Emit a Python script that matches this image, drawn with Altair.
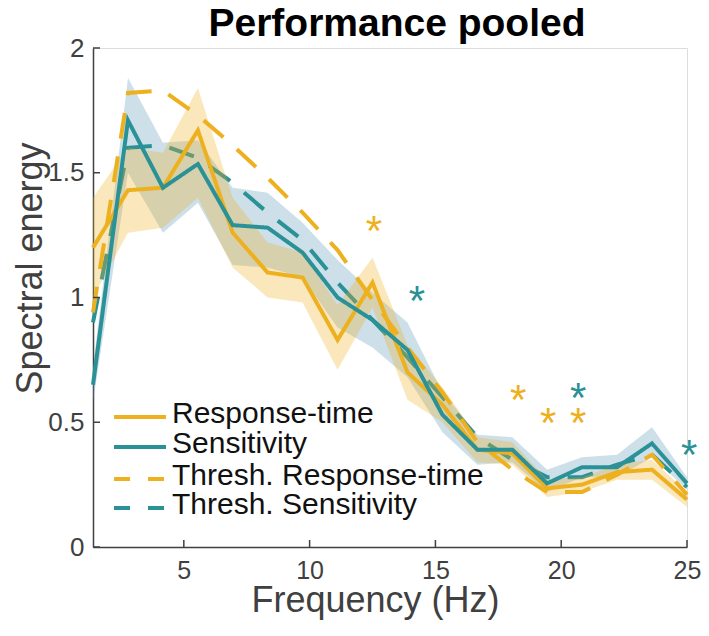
import altair as alt
import pandas as pd

# ---------------- data ----------------
freq = [1.39, 2.78, 4.17, 5.56, 6.94, 8.33, 9.72, 11.11, 12.5, 13.89,
        15.28, 16.67, 18.06, 19.44, 20.83, 22.22, 23.61, 25.0]

rt = [1.20, 1.43, 1.44, 1.67, 1.26, 1.10, 1.08, 0.83, 1.06, 0.70,
      0.57, 0.39, 0.375, 0.235, 0.25, 0.30, 0.31, 0.19]
rt_hi = [1.40, 1.60, 1.58, 1.84, 1.40, 1.22, 1.18, 0.97, 1.16, 0.81,
         0.64, 0.44, 0.42, 0.27, 0.28, 0.33, 0.35, 0.22]
rt_lo = [1.00, 1.26, 1.28, 1.40, 1.12, 1.00, 0.98, 0.71, 0.96, 0.59,
         0.50, 0.34, 0.33, 0.20, 0.22, 0.27, 0.27, 0.16]

sens = [0.65, 1.71, 1.44, 1.535, 1.29, 1.28, 1.18, 1.00, 0.91, 0.79,
        0.53, 0.39, 0.39, 0.255, 0.32, 0.32, 0.415, 0.255]
sens_hi = [0.72, 1.88, 1.62, 1.63, 1.44, 1.42, 1.30, 1.15, 1.02, 0.90,
           0.62, 0.45, 0.44, 0.31, 0.36, 0.37, 0.48, 0.28]
sens_lo = [0.58, 1.50, 1.26, 1.38, 1.13, 1.12, 1.08, 0.88, 0.80, 0.68,
           0.46, 0.33, 0.34, 0.22, 0.28, 0.28, 0.36, 0.23]

thr_rt = [0.94, 1.82, 1.83, 1.73, 1.61, 1.48, 1.34, 1.19, 0.99, 0.80,
          0.62, 0.42, 0.31, 0.22, 0.22, 0.29, 0.37, 0.21]
thr_sens = [0.90, 1.60, 1.61, 1.56, 1.46, 1.34, 1.23, 1.06, 0.91, 0.76,
            0.60, 0.44, 0.35, 0.28, 0.28, 0.33, 0.37, 0.24]

rt_star_f = [12.56, 18.29, 19.48, 20.67]
rt_star_v = [1.30, 0.62, 0.53, 0.53]
sens_star_f = [14.27, 20.67, 25.09]
sens_star_v = [1.02, 0.63, 0.40]

series_names = ["Response-time", "Sensitivity",
                "Thresh. Response-time", "Thresh. Sensitivity"]

x_ticks = [5, 10, 15, 20, 25]
y_ticks = [0, 0.5, 1, 1.5, 2]

# ---------------- styling ----------------
YEL = "#EDB120"
TEAL = "#2A9197"
BAND_TEAL = "#5A96B4"
AXC = "#404040"
FONT = "Liberation Sans"
series_colors = [YEL, TEAL, YEL, TEAL]
series_dash = [[1, 0], [1, 0], [26, 18], [26, 18]]
legend_dash = [[1, 0], [1, 0], [16, 18], [16, 18]]
legend_rows_px = [369, 399, 431, 460]   # legend row centres inside the plot

# ---------------- tables ----------------
lines = pd.DataFrame(
    [{"freq": f, "value": v, "series": s}
     for s, vals in zip(series_names, [rt, sens, thr_rt, thr_sens])
     for f, v in zip(freq, vals)]
)
bands = pd.DataFrame({"freq": freq, "rt_lo": rt_lo, "rt_hi": rt_hi,
                      "sens_lo": sens_lo, "sens_hi": sens_hi})
rt_stars = pd.DataFrame({"freq": rt_star_f, "value": rt_star_v})
sens_stars = pd.DataFrame({"freq": sens_star_f, "value": sens_star_v})
xt = pd.DataFrame({"freq": x_ticks})
yt = pd.DataFrame({"value": y_ticks})

x_scale = alt.Scale(domain=[1.39, 25], nice=False, zero=False)
y_scale = alt.Scale(domain=[0, 2], nice=False)

x_axis = alt.Axis(values=x_ticks, title="Frequency (Hz)", tickSize=0,
                  labelFontSize=25, labelColor=AXC, labelFont=FONT,
                  labelPadding=11, labelFlush=False, titleFontSize=36,
                  titleFont=FONT, titleFontWeight="normal", titleColor=AXC,
                  titleX=282, titleY=53, titleAlign="center",
                  titleBaseline="middle",
                  domainColor=AXC, domainWidth=1.5, grid=False)
y_axis = alt.Axis(values=y_ticks, format=".1~f", title="Spectral energy",
                  tickSize=0, labelFontSize=26, labelColor=AXC,
                  labelFont=FONT, labelPadding=9, labelFlush=False,
                  titleFontSize=36, titleFont=FONT,
                  titleFontWeight="normal", titleColor=AXC,
                  titleX=-63, titleY=220, titleAngle=270,
                  titleAlign="center", titleBaseline="middle",
                  domainColor=AXC, domainWidth=1.5, grid=False)


def X(field="freq"):
    return alt.X(f"{field}:Q", scale=x_scale, axis=x_axis)


def Y(field="value"):
    return alt.Y(f"{field}:Q", scale=y_scale, axis=y_axis)


def line_layer(name):
    i = series_names.index(name)
    return alt.Chart(lines).transform_filter(
        alt.datum.series == name
    ).mark_line(strokeWidth=4, strokeCap="butt", strokeJoin="miter",
                color=series_colors[i], strokeDash=series_dash[i]).encode(
        x=X(), y=Y(), order="freq:Q",
    )


def legend_entry(i):
    name = series_names[i]
    row = legend_rows_px[i]
    d = pd.DataFrame({"label": [name]})
    sym = alt.Chart(d).mark_rule(
        color=series_colors[i], strokeWidth=4, strokeDash=legend_dash[i],
        strokeCap="butt"
    ).encode(x=alt.value(21), x2=alt.value(73), y=alt.value(row))
    txt = alt.Chart(d).mark_text(
        align="left", baseline="middle", fontSize=30, font=FONT,
        color="#111111", dy=-3
    ).encode(x=alt.value(79), y=alt.value(row), text="label:N")
    return sym + txt


sens_band = alt.Chart(bands).mark_area(color=BAND_TEAL, opacity=0.3).encode(
    x=X(), y=Y("sens_lo"), y2="sens_hi:Q")
rt_band = alt.Chart(bands).mark_area(color=YEL, opacity=0.3).encode(
    x=X(), y=Y("rt_lo"), y2="rt_hi:Q")

star_rt = alt.Chart(rt_stars).mark_text(
    text="*", fontSize=42, font=FONT, color=YEL, baseline="alphabetic", dy=22
).encode(x=X(), y=Y())
star_sens = alt.Chart(sens_stars).mark_text(
    text="*", fontSize=42, font=FONT, color=TEAL, baseline="alphabetic", dy=22
).encode(x=X(), y=Y())

x_tick_marks = alt.Chart(xt).mark_rule(color=AXC, strokeWidth=1.5).encode(
    x=X(), y=alt.value(499), y2=alt.value(492))
y_tick_marks = alt.Chart(yt).mark_rule(color=AXC, strokeWidth=1.5).encode(
    y=Y(), x=alt.value(0), x2=alt.value(7))

chart = alt.layer(
    sens_band,
    line_layer("Thresh. Sensitivity"),
    rt_band,
    line_layer("Thresh. Response-time"),
    line_layer("Response-time"),
    line_layer("Sensitivity"),
    star_rt, star_sens,
    x_tick_marks, y_tick_marks,
    *[legend_entry(i) for i in range(4)],
).properties(
    width=594, height=499,
    title=alt.TitleParams("Performance pooled", fontSize=39,
                          fontWeight="bold", font=FONT, color="black",
                          anchor="middle", offset=10, dy=19, dx=7),
    padding={"left": 85, "top": 40, "right": 14, "bottom": 80},
    autosize="none",
).configure_view(stroke=None).configure(background="white")

chart.save("out.html", embed_options={"renderer": "svg", "actions": False})
